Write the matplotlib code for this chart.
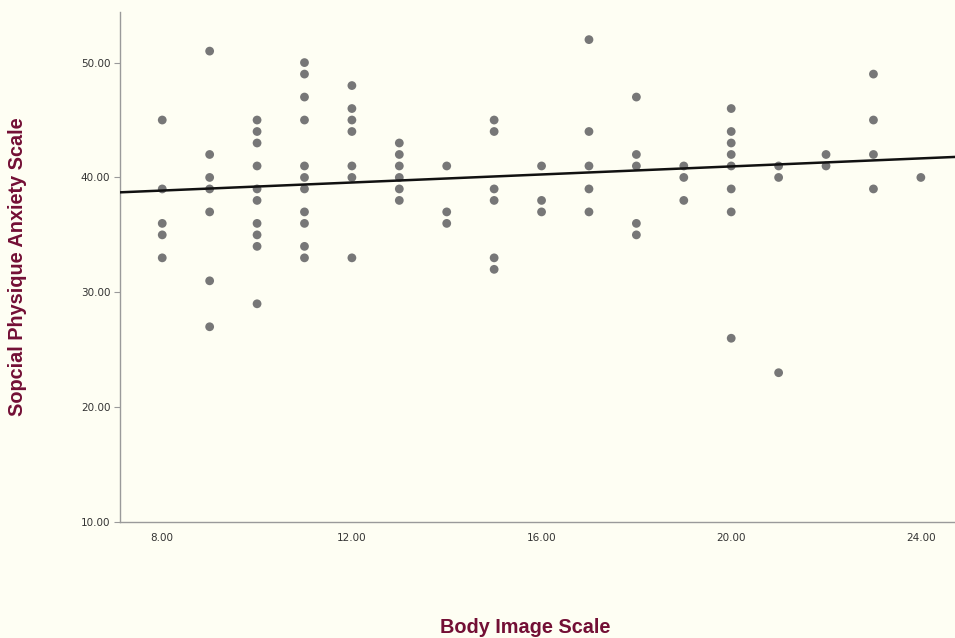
import numpy as np
import matplotlib
matplotlib.use("Agg")
import matplotlib.pyplot as plt

# Body Image Scale value -> Social Physique Anxiety Scale values
body_image = [8, 9, 10, 11, 12, 13, 14, 15, 16, 17, 18, 19, 20, 21, 22, 23, 24]
anxiety = [
    [45, 39, 36, 35, 33],
    [51, 42, 40, 39, 37, 31, 27],
    [45, 44, 43, 41, 39, 38, 36, 35, 34, 29],
    [50, 49, 47, 45, 41, 40, 39, 37, 36, 34, 33],
    [48, 46, 45, 44, 41, 40, 33],
    [43, 42, 41, 40, 39, 38],
    [41, 37, 36],
    [45, 44, 39, 38, 33, 32],
    [41, 38, 37],
    [52, 44, 41, 39, 37],
    [47, 42, 41, 36, 35],
    [41, 40, 38],
    [46, 44, 43, 42, 41, 39, 37, 26],
    [41, 40, 23],
    [42, 41],
    [49, 45, 42, 39],
    [40],
]
# fit line as drawn in the original (overlapping points are hidden there)
fit_intercept = 37.46
fit_slope = 0.175
x_ticks = [8, 12, 16, 20, 24]
y_ticks = [10, 20, 30, 40, 50]

bg = "#fefef3"
maroon = "#730f35"

xs = np.array([b for b, vals in zip(body_image, anxiety) for _ in vals], dtype=float)
ys = np.array([v for vals in anxiety for v in vals], dtype=float)

fig = plt.figure(figsize=(9.55, 6.38), dpi=100, facecolor=bg)
ax = fig.add_axes([0.1257, 0.1818, 0.8743, 0.7993], facecolor=bg)

ax.scatter(xs, ys, s=40, color="#777777", edgecolors="none", zorder=3)

xmin, xmax = 7.11, 24.72
xl = np.array([xmin, xmax])
ax.plot(xl, fit_intercept + fit_slope * xl, color="#111111", lw=1.8, zorder=4)

ax.set_xlim(xmin, xmax)
ax.set_ylim(10, 54.4)
ax.set_xticks(x_ticks)
ax.set_xticklabels([f"{t:.2f}" for t in x_ticks])
ax.set_yticks(y_ticks)
ax.set_yticklabels([f"{t:.2f}" for t in y_ticks])

for side in ["top", "right"]:
    ax.spines[side].set_visible(False)
for side in ["left", "bottom"]:
    ax.spines[side].set_color("#9a9a9a")
    ax.spines[side].set_linewidth(1.0)
ax.tick_params(axis="y", length=4, color="#9a9a9a", labelsize=7.5, labelcolor="#333333", pad=3)
ax.tick_params(axis="x", length=0, labelsize=7.5, labelcolor="#333333", pad=8)

fig.text(0.018, 0.582, "Sopcial Physique Anxiety Scale", rotation=90, ha="center", va="center",
         fontsize=14.3, fontweight="bold", color=maroon, family="Liberation Sans")
fig.text(0.55, 0.016, "Body Image Scale", ha="center", va="center",
         fontsize=14.3, fontweight="bold", color=maroon, family="Liberation Sans")

fig.savefig("out.png", dpi=100, facecolor=bg)
